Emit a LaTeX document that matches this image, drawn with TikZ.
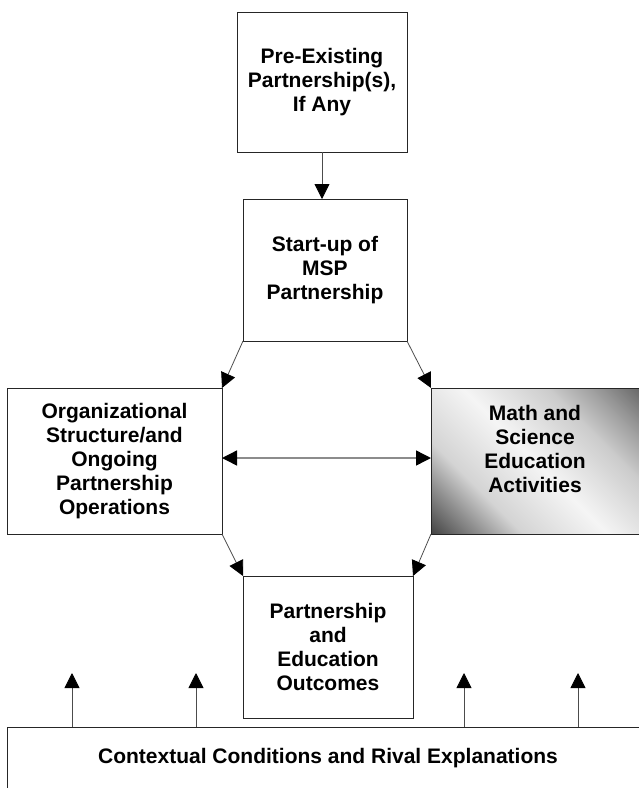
\documentclass[tikz,border=0pt]{standalone}
\usepackage{fontspec}
\setmainfont{Liberation Sans}
\usetikzlibrary{arrows.meta,positioning}

% diagonal grey shading for the activities box
\pgfdeclareverticalshading{actshade}{100bp}{color(0bp)=(black!75); color(15bp)=(black!72); color(25bp)=(black!42); color(33bp)=(black!17); color(50bp)=(black!4); color(67bp)=(black!20); color(77bp)=(black!40); color(85bp)=(black!58); color(100bp)=(black!58)}

\begin{document}
\begin{tikzpicture}[
    x=1pt, y=-1pt,
    box/.style={rectangle, draw=black!85, fill=white, line width=1pt, inner sep=0pt, outer sep=0pt, align=center, font=\fontsize{21}{24}\selectfont\bfseries},
    arrow/.style={-{Triangle[length=15pt,width=15pt,color=black]}, draw=black!70, line width=0.8pt},
    darrow/.style={{Triangle[length=15pt,width=15pt,color=black]}-{Triangle[length=15pt,width=15pt,color=black]}, draw=black!45, line width=1.4pt}
]
    \useasboundingbox (0,0) rectangle (638,788);

    % Pre-existing partnerships (top)
    \node[box, minimum width=170pt, minimum height=140pt] (pre) at (322,82) {Pre-Existing\\Partnership(s),\\If Any};

    % Start-up of the partnership
    \node[box, minimum width=164pt, minimum height=142pt] (startup) at (325,270) {Start-up of\\MSP\\Partnership};

    % Organizational structure (left)
    \node[box, minimum width=215pt, minimum height=146pt] (org) at (114.5,461) {Organizational\\Structure/and\\Ongoing\\Partnership\\Operations};

    % Math and science activities (right, shaded)
    \node[box, minimum width=208pt, minimum height=146pt, shading=actshade, shading angle=-45] (activities) at (535,461) {Math and\\Science\\Education\\Activities\\~};

    % Outcomes (bottom)
    \node[box, minimum width=170pt, minimum height=142pt] (outcomes) at (328,647) {Partnership\\and\\Education\\Outcomes};

    % Context bar
    \node[box, minimum width=642pt, minimum height=62pt] (context) at (328,758) {Contextual Conditions and Rival Explanations};

    % Arrows
    \draw[arrow] (pre.south) -- (pre.south |- startup.north);
    \draw[arrow] (startup.south west) -- (org.north east);
    \draw[arrow] (startup.south east) -- (activities.north west);
    \draw[arrow] (org.south east) -- (outcomes.north west);
    \draw[arrow] (activities.south west) -- (outcomes.north east);
    \draw[darrow] ([yshift=3pt]org.east) -- ([yshift=3pt]activities.west);

    % Context influences
    \foreach \x [count=\i] in {72,196,464,578} {
        \coordinate (up\i) at (\x,673);
        \draw[arrow] (up\i |- context.north) -- (up\i);
    }
\end{tikzpicture}
\end{document}
